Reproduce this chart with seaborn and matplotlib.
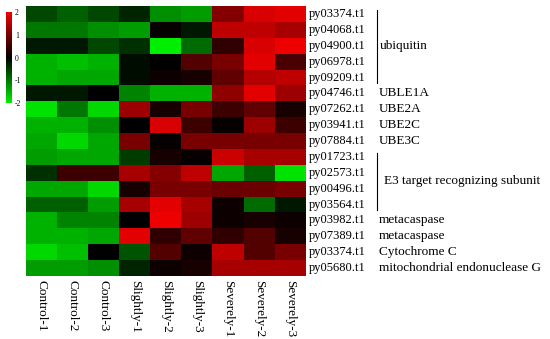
import numpy as np
import pandas as pd
import seaborn as sns
import matplotlib.pyplot as plt
from matplotlib.colors import LinearSegmentedColormap

# samples and genes
samples = ['Control-1', 'Control-2', 'Control-3',
           'Slightly-1', 'Slightly-2', 'Slightly-3',
           'Severely-1', 'Severely-2', 'Severely-3']
genes = ['py03374.t1', 'py04068.t1', 'py04900.t1', 'py06978.t1', 'py09209.t1',
         'py04746.t1', 'py07262.t1', 'py03941.t1', 'py07884.t1',
         'py01723.t1', 'py02573.t1', 'py00496.t1', 'py03564.t1',
         'py03982.t1', 'py07389.t1', 'py03374.t1', 'py05680.t1']

# z-scores, one list per gene
z_values = [
    [-0.6, -0.8, -0.6, -0.3, -1.2, -1.3, 1.1, 1.8, 1.9],
    [-1.0, -1.0, -1.2, -1.3, 0.05, -0.2, 1.6, 1.6, 1.4],
    [-0.2, -0.2, -0.6, -0.4, -2.0, -0.9, 0.4, 1.8, 2.0],
    [-1.5, -1.6, -1.5, -0.1, 0.0, 0.7, 1.0, 1.9, 0.6],
    [-1.5, -1.4, -1.4, -0.1, 0.1, 0.2, 0.8, 1.5, 1.6],
    [-0.2, -0.2, 0.0, -1.1, -1.5, -1.5, 1.2, 1.9, 1.3],
    [-1.9, -1.0, -1.8, 1.3, 0.2, 1.0, 0.5, 0.8, 0.2],
    [-1.5, -1.5, -1.2, 0.0, 1.8, 0.5, 0.05, 1.3, 0.5],
    [-1.4, -1.8, -1.4, 1.0, 0.05, 1.0, 1.0, 1.0, 1.0],
    [-1.3, -1.4, -1.4, -0.5, 0.2, 0.05, 1.7, 1.4, 1.4],
    [-0.4, 0.5, 0.5, 1.4, 1.1, 1.6, -1.4, -0.8, -1.9],
    [-1.4, -1.4, -1.8, 0.2, 1.0, 1.0, 0.9, 0.9, 1.0],
    [-0.8, -0.8, -1.3, 1.4, 1.9, 1.4, 0.1, -0.9, -0.2],
    [-1.5, -1.1, -1.1, 0.0, 2.0, 1.3, 0.1, 0.2, 0.1],
    [-1.5, -1.5, -1.4, 1.9, 0.4, 0.8, 0.4, 0.7, 0.2],
    [-1.8, -1.6, 0.0, -0.7, 0.7, 0.1, 1.6, 0.7, 1.0],
    [-1.3, -1.3, -1.2, -0.3, 0.1, 0.2, 1.4, 1.4, 1.4],
]

# single-row annotations: (row index, text)
single_notes = [(5, 'UBLE1A'), (6, 'UBE2A'), (7, 'UBE2C'), (8, 'UBE3C'),
                (13, 'metacaspase'), (14, 'metacaspase'),
                (15, 'Cytochrome C'), (16, 'mitochondrial endonuclease G')]
# grouped annotations: (first row, last row, text)
group_notes = [(0, 4, 'ubiquitin'), (9, 12, 'E3 target recognizing subunit')]

df = pd.DataFrame(z_values, index=genes, columns=samples)

plt.rcParams['font.family'] = ['Liberation Serif', 'DejaVu Serif']
plt.rcParams['axes.unicode_minus'] = False

cmap = LinearSegmentedColormap.from_list('gkr', ['#00ee00', '#000000', '#ee0000'])

fig = plt.figure(figsize=(5.5, 3.39), dpi=100)
ax = fig.add_axes([0.047, 0.186, 0.509, 0.796])
cax = fig.add_axes([0.011, 0.696, 0.011, 0.268])

sns.heatmap(df, ax=ax, cmap=cmap, vmin=-2, vmax=2, cbar_ax=cax,
            cbar_kws={'ticks': [-2, -1, 0, 1, 2]},
            xticklabels=samples, yticklabels=genes)

ax.yaxis.tick_right()
ax.tick_params(axis='y', length=0, pad=2, labelsize=9, labelrotation=0)
ax.tick_params(axis='x', length=0, pad=3, labelsize=9.5, labelrotation=270)
for lbl in ax.get_yticklabels():
    lbl.set_va('center')

cax.tick_params(length=0, labelsize=5.5, pad=2)
ax.collections[0].colorbar.outline.set_visible(False)

trans = ax.get_yaxis_transform()
for row, txt in single_notes:
    ax.text(1.262, row + 0.5, txt, transform=trans, fontsize=9.5,
            va='center', ha='left')
for r0, r1, txt in group_notes:
    ax.plot([1.254, 1.254], [r0 + 0.25, r1 + 0.85], transform=trans,
            color='black', lw=0.8, clip_on=False)
    ax.text(1.266 if r0 == 0 else 1.28, (r0 + r1 + 1) / 2, txt,
            transform=trans, fontsize=9.5, va='center', ha='left')

fig.savefig('out.png', dpi=100)
